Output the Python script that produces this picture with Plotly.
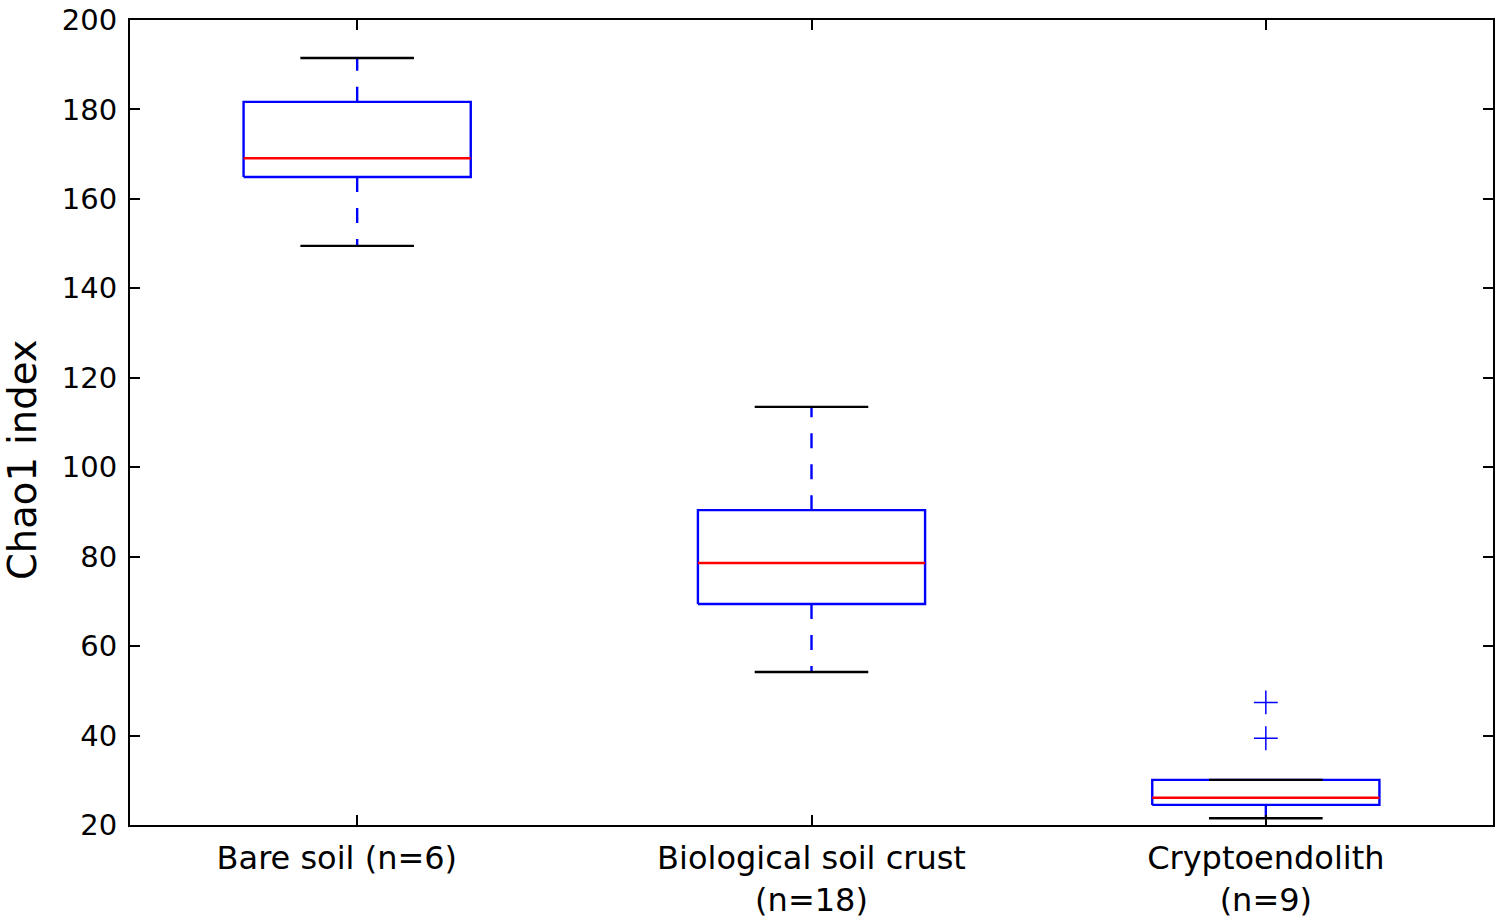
import plotly.graph_objects as go

categories = ["Bare soil (n=6)&nbsp;&nbsp;&nbsp;&nbsp;", "Biological soil crust<br>(n=18)", "Cryptoendolith<br>(n=9)"]
positions = [1, 2, 3]
q1 = [164.9, 69.4, 24.5]
median = [169.1, 78.6, 26.1]
q3 = [181.7, 90.4, 30.1]
whisker_low = [149.5, 54.2, 21.5]
whisker_high = [191.5, 113.5, 30.1]
outliers = [[], [], [47.4, 39.4]]
y_ticks = [20, 40, 60, 80, 100, 120, 140, 160, 180, 200]
y_title = "Chao1 index"

BOX_HW = 0.25
CAP_HW = 0.125
BLUE = "#0000ff"
RED = "#ff0000"
LW = 2.4

fig = go.Figure()

for i, p in enumerate(positions):
    fig.add_trace(go.Scatter(
        x=[p - BOX_HW, p + BOX_HW, p + BOX_HW, p - BOX_HW, p - BOX_HW],
        y=[q1[i], q1[i], q3[i], q3[i], q1[i]],
        mode="lines", line=dict(color=BLUE, width=LW), hoverinfo="skip"))
for i, p in enumerate(positions):
    fig.add_trace(go.Scatter(
        x=[p - BOX_HW, p + BOX_HW], y=[median[i], median[i]],
        mode="lines", line=dict(color=RED, width=LW), hoverinfo="skip"))
for i, p in enumerate(positions):
    fig.add_trace(go.Scatter(
        x=[p, p, None, p, p],
        y=[q3[i], whisker_high[i], None, q1[i], whisker_low[i]],
        mode="lines", line=dict(color=BLUE, width=LW, dash="15px,16px"), hoverinfo="skip"))
for i, p in enumerate(positions):
    fig.add_trace(go.Scatter(
        x=[p - CAP_HW, p + CAP_HW, None, p - CAP_HW, p + CAP_HW],
        y=[whisker_high[i], whisker_high[i], None, whisker_low[i], whisker_low[i]],
        mode="lines", line=dict(color="black", width=LW), hoverinfo="skip"))
for i, p in enumerate(positions):
    if outliers[i]:
        fig.add_trace(go.Scatter(
            x=[p] * len(outliers[i]), y=outliers[i], mode="markers",
            marker=dict(symbol="cross-thin", size=17, line=dict(color=BLUE, width=1.5)),
            hoverinfo="skip"))

axis_common = dict(showline=True, linecolor="black", linewidth=2, mirror="ticks",
                   ticks="inside", ticklen=10, tickwidth=1.5, tickcolor="black",
                   showgrid=False, zeroline=False, automargin=False,
                   ticklabeloverflow="allow")

fig.update_layout(
    width=1500, height=922,
    margin=dict(l=130, r=7, t=20, b=97),
    paper_bgcolor="white", plot_bgcolor="white",
    showlegend=False,
    font=dict(family="DejaVu Sans", size=29, color="black"),
    xaxis=dict(range=[0.5, 3.5], tickmode="array", tickvals=positions, ticktext=categories,
               tickfont=dict(size=32), ticklabelstandoff=4, **axis_common),
    yaxis=dict(range=[20, 200], tickmode="array", tickvals=y_ticks,
               tickfont=dict(size=29), ticklabelstandoff=5, **axis_common),
    annotations=[dict(text=y_title, textangle=-90, xref="paper", yref="paper",
                      x=0, y=0.4534, xanchor="center", yanchor="middle",
                      xshift=-108, showarrow=False, font=dict(size=38.5))],
)

fig.write_html("out.html", post_script="document.body.style.margin='0px';",
               config={"displayModeBar": False})
